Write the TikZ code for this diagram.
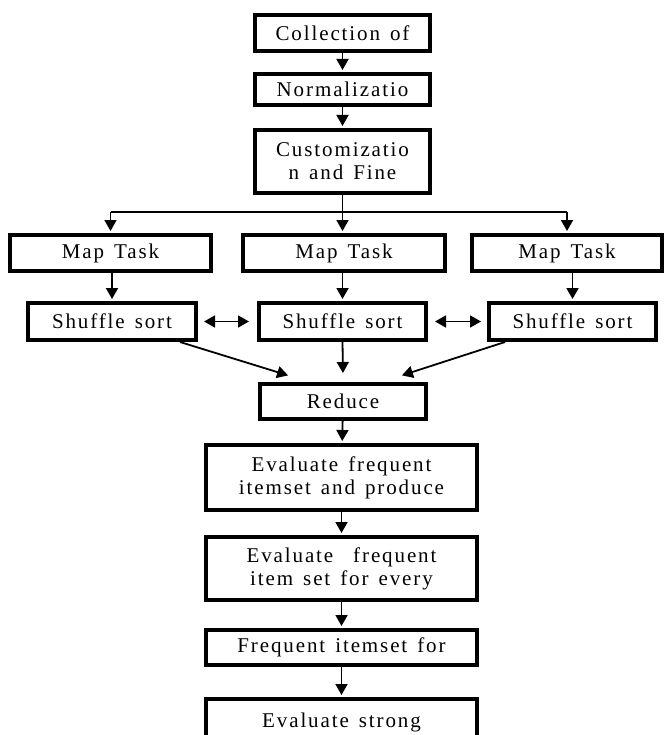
\documentclass[tikz,border=0pt]{standalone}
\usepackage{fontspec}
\setmainfont{Liberation Serif}[LetterSpace=9,WordSpace=1.4]
\usetikzlibrary{arrows.meta}
\begin{document}
\begin{tikzpicture}[x=1pt,y=-1pt,
  box/.style={draw=black, line width=4pt, fill=white, inner sep=0pt,
    align=center, font=\fontsize{21}{23}\selectfont},
  link/.style={draw=black, line width=1.8pt},
  arr/.style={link, -{Triangle[width=12pt,length=11pt]}, shorten >=2pt},
  dbl/.style={link, {Triangle[width=12pt,length=11pt]}-{Triangle[width=12pt,length=11pt]}}]
\useasboundingbox (0,0) rectangle (669,735);
\clip (0,0) rectangle (669,735);
\fill[white] (0,0) rectangle (669,735);

% preparation stages
\node[box, minimum width=175, minimum height=36] (c1) at (342.5,33) {Collection of};
\node[box, minimum width=175, minimum height=31] (c2) at (342.5,89.5) {Normalizatio};
\node[box, minimum width=175, minimum height=63] (c3) at (342.5,161.5) {Customizatio\\n and Fine};

% map phase
\node[box, minimum width=201, minimum height=36] (m1) at (110.5,253) {Map Task};
\node[box, minimum width=202, minimum height=36] (m2) at (344,253) {Map Task};
\node[box, minimum width=190, minimum height=36] (m3) at (567,253) {Map Task};

% shuffle phase
\node[box, minimum width=168, minimum height=37] (s1) at (112,321.5) {Shuffle sort};
\node[box, minimum width=167, minimum height=37] (s2) at (342.5,321.5) {Shuffle sort};
\node[box, minimum width=167, minimum height=37] (s3) at (572.5,321.5) {Shuffle sort};

% reduce and evaluation
\node[box, minimum width=166, minimum height=35] (r) at (343,401.5) {Reduce};
\node[box, minimum width=271, minimum height=65] (e1) at (341.5,477.5) {Evaluate frequent\\itemset and produce};
\node[box, minimum width=271, minimum height=63] (e2) at (341.5,568.5) {Evaluate\ \ frequent\\item set for every};
\node[box, minimum width=271, minimum height=35] (f) at (341.5,647.5) {Frequent itemset for};
\node[box, minimum width=271, minimum height=65, anchor=north] (g) at (341.5,697) {Evaluate strong\\\mbox{}};

% vertical chain at the top
\draw[arr] (c1) -- (c2);
\draw[arr] (c2) -- (c3);

% fan-out to the map tasks
\coordinate (hy) at (0,212);
\draw[link] (m1.north |- hy) -- (m3.north |- hy);
\draw[link] (c3.south) -- (c3.south |- hy);
\draw[arr] (m1.north |- hy) -- (m1.north);
\draw[arr] (c3.south |- hy) -- (c3.south |- m2.north);
\draw[arr] (m3.north |- hy) -- (m3.north);

% map to shuffle
\draw[arr] (m1.south -| s1.north) -- (s1.north);
\draw[arr] (m2.south -| s2.north) -- (s2.north);
\draw[arr] (m3.south -| s3.north) -- (s3.north);

% exchange between shuffles
\draw[dbl] ([xshift=6pt]s1.east) -- ([xshift=-8pt]s2.west);
\draw[dbl] ([xshift=7pt]s2.east) -- ([xshift=-6pt]s3.west);

% shuffles into reduce
\coordinate (rl) at (290,376);
\coordinate (rr) at (400,376);
\draw[arr] ([xshift=-18pt]s1.south east) -- (rl);
\draw[arr] (s2.south) -- ([yshift=7pt]r.north);
\draw[arr] ([xshift=18pt]s3.south west) -- (rr);

% evaluation chain
\draw[arr] (r) -- (e1);
\draw[arr] (e1) -- (e2);
\draw[arr] (e2) -- (f);
\draw[arr] (f) -- (g);
\end{tikzpicture}
\end{document}
